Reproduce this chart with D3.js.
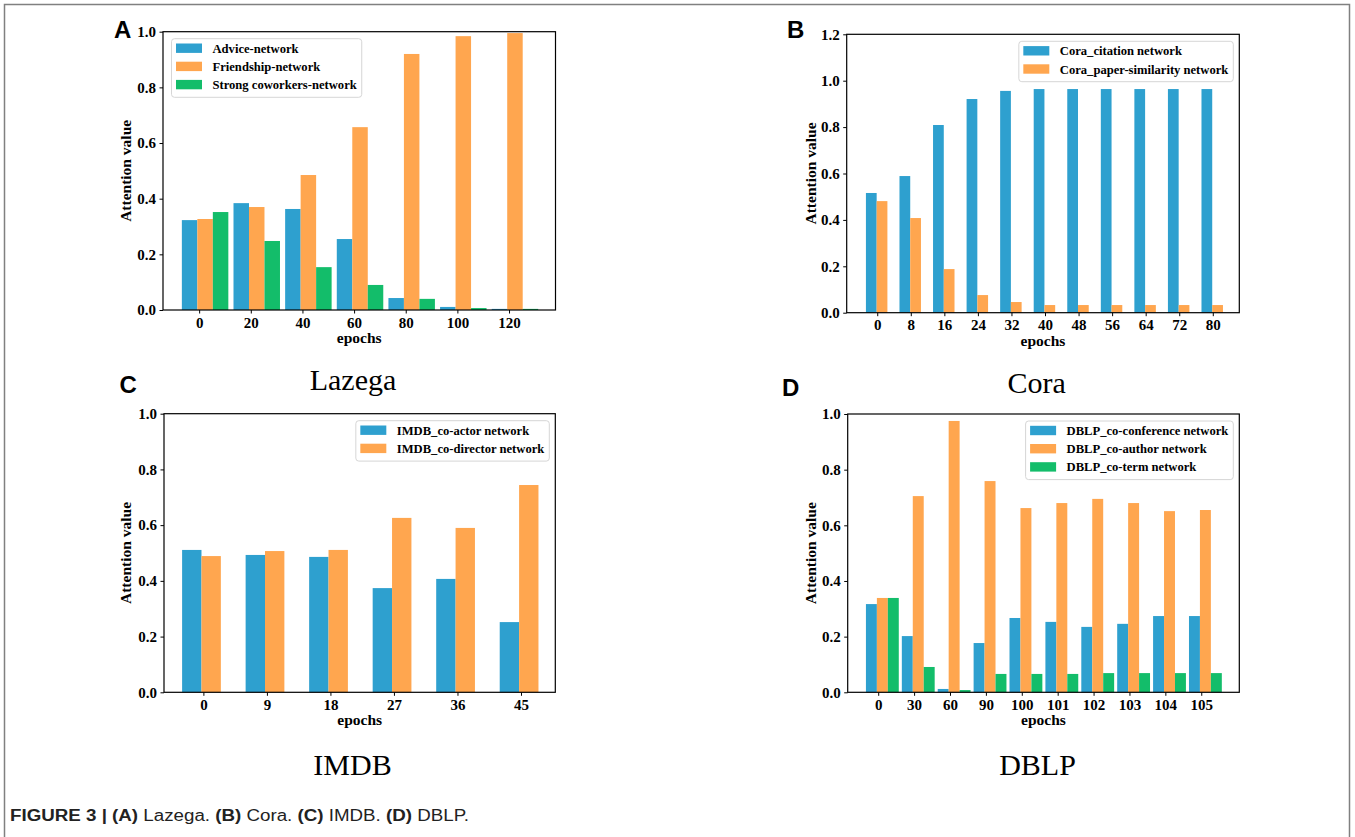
<!DOCTYPE html>
<html>
<head>
<meta charset="utf-8">
<script src="https://cdn.jsdelivr.net/npm/d3@7"></script>
<style>
  body { margin: 0; background: #fff; }
  svg { display: block; }
</style>
</head>
<body>
<div id="chart"></div>
<script>
// data
const lazegaEpochs = ["0", "20", "40", "60", "80", "100", "120"];
const lazegaAdvice = [0.323, 0.384, 0.363, 0.255, 0.043, 0.011, 0.004];
const lazegaFriendship = [0.327, 0.370, 0.485, 0.657, 0.920, 0.984, 0.995];
const lazegaCoworkers = [0.352, 0.248, 0.154, 0.090, 0.040, 0.007, 0.004];

const coraEpochs = ["0", "8", "16", "24", "32", "40", "48", "56", "64", "72", "80"];
const coraCitation = [0.516, 0.589, 0.809, 0.921, 0.956, 0.964, 0.964, 0.964, 0.964, 0.964, 0.964];
const coraSimilarity = [0.481, 0.408, 0.188, 0.076, 0.046, 0.033, 0.033, 0.033, 0.033, 0.033, 0.033];

const imdbEpochs = ["0", "9", "18", "27", "36", "45"];
const imdbActor = [0.511, 0.493, 0.486, 0.374, 0.407, 0.252];
const imdbDirector = [0.489, 0.507, 0.511, 0.626, 0.590, 0.744];

const dblpEpochs = ["0", "30", "60", "90", "100", "101", "102", "103", "104", "105"];
const dblpConference = [0.317, 0.202, 0.012, 0.177, 0.267, 0.253, 0.235, 0.246, 0.274, 0.274];
const dblpAuthor = [0.339, 0.705, 0.975, 0.759, 0.662, 0.680, 0.695, 0.680, 0.651, 0.655];
const dblpTerm = [0.339, 0.091, 0.008, 0.066, 0.066, 0.066, 0.069, 0.069, 0.069, 0.069];

const colors = ["#2ea0cf", "#ffa64f", "#13bd6a"];
const serif = "'Liberation Serif', 'Times New Roman', serif";

const svg = d3.select("#chart")
    .append("svg")
    .attr("width", 1355)
    .attr("height", 837);

// grey frame of the figure (no bottom edge)
svg.append("path")
    .attr("d", "M4.5,837 V4.5 H1349.5 V837")
    .style("fill", "none")
    .style("stroke", "#808080")
    .style("stroke-width", 1.5);

function drawPanel(p) {
    const x = d3.scaleLinear().domain(p.xlim).range([p.left, p.right]);
    const y = d3.scaleLinear().domain([0, p.ymax]).range([p.bottom, p.top]);

    const g = svg.append("g");

    // bars, one series at a time
    p.series.forEach((vals, s) => {
        g.selectAll(".bar" + s)
            .data(vals)
            .enter()
            .append("rect")
            .attr("x", (d, i) => x(i + p.start + s * p.width))
            .attr("y", d => y(d))
            .attr("width", x(p.width) - x(0))
            .attr("height", d => y(0) - y(d))
            .style("fill", colors[s]);
    });

    const xAxis = g.append("g")
        .attr("transform", "translate(0," + p.bottom + ")")
        .call(d3.axisBottom(x)
            .tickValues(d3.range(p.cats.length))
            .tickFormat(i => p.cats[i])
            .tickSizeInner(3.5).tickSizeOuter(0).tickPadding(3.5));

    const yAxis = g.append("g")
        .attr("transform", "translate(" + p.left + ",0)")
        .call(d3.axisLeft(y)
            .tickValues(d3.range(0, p.ymax + 0.01, 0.2))
            .tickFormat(d3.format(".1f"))
            .tickSizeInner(3.5).tickSizeOuter(0).tickPadding(3.5));

    [xAxis, yAxis].forEach(a => {
        a.select(".domain").remove();
        a.selectAll("line").style("stroke", "#000").style("stroke-width", 1);
        a.selectAll("text")
            .style("font-family", serif)
            .style("font-weight", "bold")
            .style("font-size", "15px")
            .style("fill", "#000");
    });

    // full box
    g.append("rect")
        .attr("x", p.left)
        .attr("y", p.top)
        .attr("width", p.right - p.left)
        .attr("height", p.bottom - p.top)
        .style("fill", "none")
        .style("stroke", "#000")
        .style("stroke-width", 1.2);

    g.append("text")
        .attr("transform", "translate(" + p.ylabelX + "," + (p.top + p.bottom) / 2 + ") rotate(-90)")
        .style("text-anchor", "middle")
        .style("font-family", serif)
        .style("font-weight", "bold")
        .style("font-size", "15.5px")
        .text("Attention value");

    g.append("text")
        .attr("x", (p.left + p.right) / 2)
        .attr("y", p.bottom + 33)
        .style("text-anchor", "middle")
        .style("font-family", serif)
        .style("font-weight", "bold")
        .style("font-size", "15.5px")
        .text("epochs");

    // legend
    const lg = g.append("g");
    const box = lg.append("rect")
        .attr("rx", 3)
        .style("fill", "#fff")
        .style("fill-opacity", 0.8)
        .style("stroke", "#d6d6d6")
        .style("stroke-width", 1);

    const labels = lg.selectAll(".legend-label")
        .data(p.names)
        .enter()
        .append("text")
        .attr("x", 41)
        .attr("y", (d, i) => 9.5 + i * 18.2)
        .attr("dy", "0.36em")
        .style("font-family", serif)
        .style("font-weight", "bold")
        .style("font-size", "12.6px")
        .text(d => d);

    lg.selectAll(".legend-sw")
        .data(p.names)
        .enter()
        .append("rect")
        .attr("x", 4.5)
        .attr("y", (d, i) => 9.5 + i * 18.2 - 4.7)
        .attr("width", 26)
        .attr("height", 9.4)
        .style("fill", (d, i) => colors[i]);

    const textW = d3.max(labels.nodes(), n => n.getComputedTextLength());
    const bw = 41 + textW + 5;
    const bh = 9.5 + (p.names.length - 1) * 18.2 + 12.7;
    box.attr("width", bw).attr("height", bh);

    const lx = p.legendRight ? p.right - 6 - bw : p.left + 8.5;
    lg.attr("transform", "translate(" + lx + "," + (p.top + 7) + ")");

    // panel letter and dataset name
    svg.append("text")
        .attr("x", p.letterX)
        .attr("y", p.letterY)
        .style("font-family", "'Liberation Sans', Arial, sans-serif")
        .style("font-weight", "bold")
        .style("font-size", "24px")
        .text(p.letter);

    svg.append("text")
        .attr("x", p.titleX)
        .attr("y", p.titleY)
        .style("text-anchor", "middle")
        .style("font-family", serif)
        .style("font-size", "30px")
        .text(p.title);
}

drawPanel({
    cats: lazegaEpochs,
    series: [lazegaAdvice, lazegaFriendship, lazegaCoworkers],
    names: ["Advice-network", "Friendship-network", "Strong coworkers-network"],
    left: 163, right: 555.5, top: 31.7, bottom: 310,
    xlim: [-0.70, 6.90], ymax: 1.0, start: -0.335, width: 0.30,
    legendRight: false, ylabelX: 131,
    letter: "A", letterX: 114, letterY: 37.7,
    title: "Lazega", titleX: 353, titleY: 390
});

drawPanel({
    cats: coraEpochs,
    series: [coraCitation, coraSimilarity],
    names: ["Cora_citation network", "Cora_paper-similarity network"],
    left: 846.7, right: 1239.3, top: 34.3, bottom: 312.7,
    xlim: [-0.91, 10.79], ymax: 1.2, start: -0.337, width: 0.32,
    legendRight: true, ylabelX: 815.5,
    letter: "B", letterX: 787, letterY: 38.3,
    title: "Cora", titleX: 1036.7, titleY: 392.5
});

drawPanel({
    cats: imdbEpochs,
    series: [imdbActor, imdbDirector],
    names: ["IMDB_co-actor network", "IMDB_co-director network"],
    left: 164, right: 555.3, top: 413.7, bottom: 692.3,
    xlim: [-0.62, 5.54], ymax: 1.0, start: -0.335, width: 0.305,
    legendRight: true, ylabelX: 131,
    letter: "C", letterX: 119.5, letterY: 393,
    title: "IMDB", titleX: 352.5, titleY: 775
});

drawPanel({
    cats: dblpEpochs,
    series: [dblpConference, dblpAuthor, dblpTerm],
    names: ["DBLP_co-conference network", "DBLP_co-author network", "DBLP_co-term network"],
    left: 847.7, right: 1239.3, top: 414, bottom: 692.3,
    xlim: [-0.85, 10.06], ymax: 1.0, start: -0.342, width: 0.305,
    legendRight: true, ylabelX: 815.5,
    letter: "D", letterX: 782, letterY: 396,
    title: "DBLP", titleX: 1037.5, titleY: 775
});

// caption, stretched to the width it has in the figure
const cap = svg.append("text")
    .attr("x", 10)
    .attr("y", 821)
    .attr("textLength", 459)
    .attr("lengthAdjust", "spacingAndGlyphs")
    .style("font-family", "'Liberation Sans', Arial, sans-serif")
    .style("font-size", "16px")
    .style("fill", "#222");
[["FIGURE 3 | ", true], ["(A)", true], [" Lazega. ", false], ["(B)", true], [" Cora. ", false],
 ["(C)", true], [" IMDB. ", false], ["(D)", true], [" DBLP.", false]].forEach(([t, b]) => {
    cap.append("tspan").style("font-weight", b ? "bold" : "normal").text(t);
});
</script>
</body>
</html>
